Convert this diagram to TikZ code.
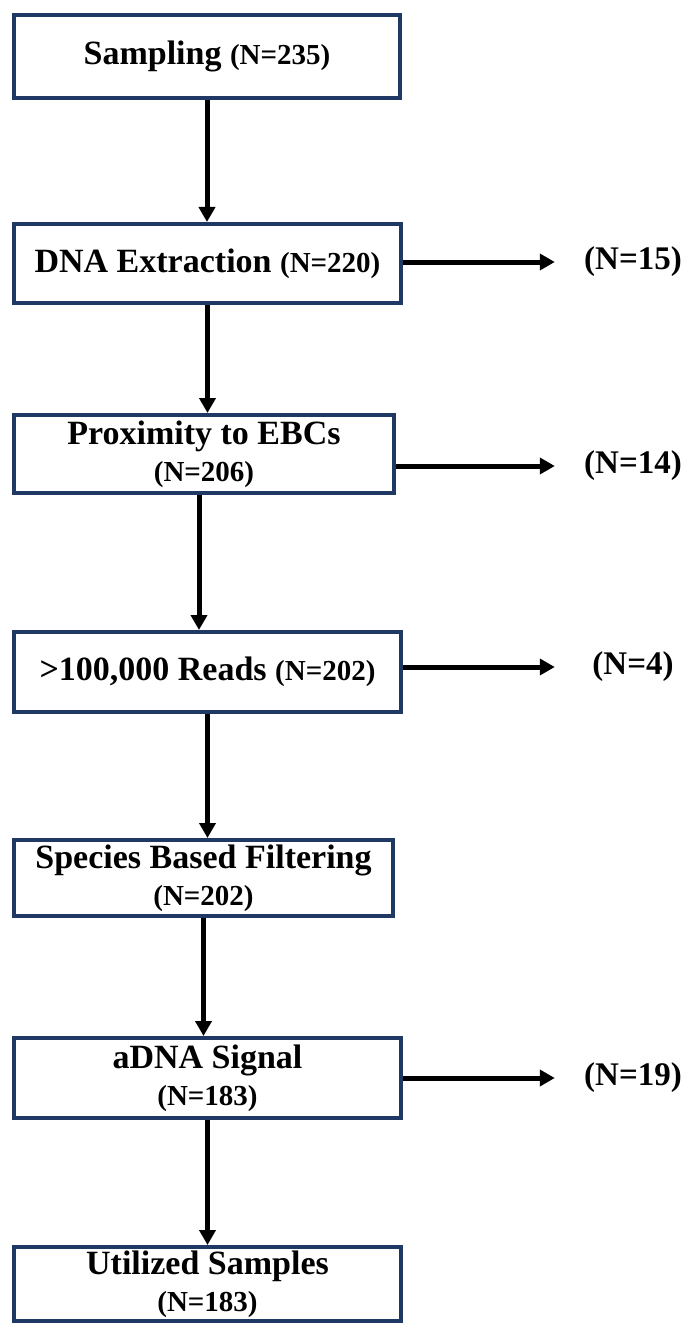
\documentclass[tikz,border=0pt]{standalone}
\usepackage{fontspec}
\setmainfont{Liberation Serif}
\usetikzlibrary{arrows.meta}
\definecolor{boxnavy}{HTML}{1F3864}
\newcommand{\ncount}[1]{{\fontsize{29}{37}\selectfont #1}}
\tikzset{>={Triangle[length=15pt,width=16pt]}}
\tikzset{
  stagebox/.style={draw=boxnavy, line width=4pt, fill=white, align=center,
    inner sep=0pt, font=\fontsize{34}{37}\selectfont\bfseries},
  flow/.style={->, line width=5pt, black},
  dropped/.style={font=\fontsize{33}{40}\selectfont\bfseries, minimum width=120pt, inner sep=0pt}
}

\begin{document}
\begin{tikzpicture}[x=1pt, y=-1pt]
    \useasboundingbox (0,0) rectangle (693,1324);
    \node [stagebox, minimum width=386pt, minimum height=83pt] (sampling) at (207,56.5) {Sampling \ncount{(N=235)}};
    \node [stagebox, minimum width=387pt, minimum height=79pt] (extract) at (207.5,263.5) {DNA Extraction \ncount{(N=220)}};
    \node [stagebox, minimum width=380pt, minimum height=78pt] (ebc) at (204,454) {Proximity to EBCs\\ \ncount{(N=206)}};
    \node [stagebox, minimum width=387pt, minimum height=80pt] (reads) at (207.5,672) {>100,000 Reads \ncount{(N=202)}};
    \node [stagebox, minimum width=379pt, minimum height=76pt] (species) at (203.5,878) {Species Based Filtering\\ \ncount{(N=202)}};
    \node [stagebox, minimum width=387pt, minimum height=80pt] (adna) at (207.5,1078) {aDNA Signal\\ \ncount{(N=183)}};
    \node [stagebox, minimum width=387pt, minimum height=74pt] (used) at (207.5,1284) {Utilized Samples\\ \ncount{(N=183)}};

    \node [dropped] (out15) at (633,262) {(N=15)};
    \node [dropped] (out14) at (633,466) {(N=14)};
    \node [dropped] (out4) at (633,667) {(N=4)};
    \node [dropped] (out19) at (633,1078) {(N=19)};

    \draw [flow] (sampling.south) -- (sampling.south |- extract.north);
    \draw [flow] (extract.south) -- (extract.south |- ebc.north);
    \draw [flow] ([xshift=-5pt]ebc.south) -- ([xshift=-5pt]ebc.south |- reads.north);
    \draw [flow] (reads.south) -- (reads.south |- species.north);
    \draw [flow] (species.south) -- (species.south |- adna.north);
    \draw [flow] (adna.south) -- (adna.south |- used.north);

    \draw [flow, shorten >=18pt] (extract.east |- out15) -- (out15.west);
    \draw [flow, shorten >=18pt] (ebc.east |- out14) -- (out14.west);
    \draw [flow, shorten >=18pt] (reads.east |- out4) -- (out4.west);
    \draw [flow, shorten >=18pt] (adna.east |- out19) -- (out19.west);
\end{tikzpicture}
\end{document}
